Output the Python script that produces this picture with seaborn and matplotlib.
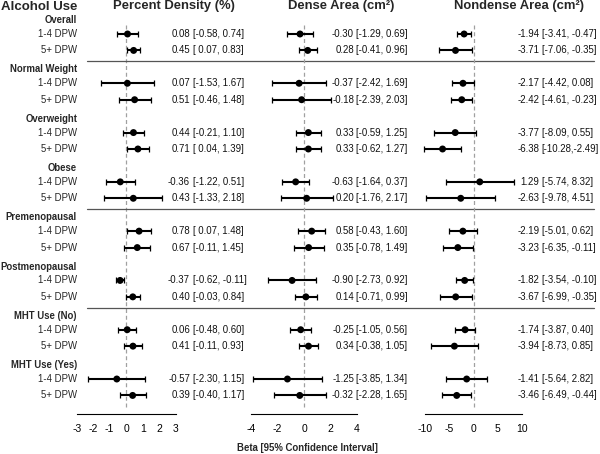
import numpy as np
import pandas as pd
import matplotlib
matplotlib.use("Agg")
import matplotlib.pyplot as plt
import seaborn as sns
from matplotlib.transforms import blended_transform_factory as btf

# ---------------- data ----------------
groups = ["Overall", "Normal Weight", "Overweight", "Obese",
          "Premenopausal", "Postmenopausal", "MHT Use (No)", "MHT Use (Yes)"]
levels = ["1-4 DPW", "5+ DPW"]

pd_est = [0.08, 0.45, 0.07, 0.51, 0.44, 0.71, -0.36, 0.43, 0.78, 0.67, -0.37, 0.40, 0.06, 0.41, -0.57, 0.39]
pd_lo = [-0.58, 0.07, -1.53, -0.46, -0.21, 0.04, -1.22, -1.33, 0.07, -0.11, -0.62, -0.03, -0.48, -0.11, -2.30, -0.40]
pd_hi = [0.74, 0.83, 1.67, 1.48, 1.10, 1.39, 0.51, 2.18, 1.48, 1.45, -0.11, 0.84, 0.60, 0.93, 1.15, 1.17]

da_est = [-0.30, 0.28, -0.37, -0.18, 0.33, 0.33, -0.63, 0.20, 0.58, 0.35, -0.90, 0.14, -0.25, 0.34, -1.25, -0.32]
da_lo = [-1.29, -0.41, -2.42, -2.39, -0.59, -0.62, -1.64, -1.76, -0.43, -0.78, -2.73, -0.71, -1.05, -0.38, -3.85, -2.28]
da_hi = [0.69, 0.96, 1.69, 2.03, 1.25, 1.27, 0.37, 2.17, 1.60, 1.49, 0.92, 0.99, 0.56, 1.05, 1.34, 1.65]

nd_est = [-1.94, -3.71, -2.17, -2.42, -3.77, -6.38, 1.29, -2.63, -2.19, -3.23, -1.82, -3.67, -1.74, -3.94, -1.41, -3.46]
nd_lo = [-3.41, -7.06, -4.42, -4.61, -8.09, -10.28, -5.74, -9.78, -5.01, -6.35, -3.54, -6.99, -3.87, -8.73, -5.64, -6.49]
nd_hi = [-0.47, -0.35, 0.08, -0.23, 0.55, -2.49, 8.32, 4.51, 0.62, -0.11, -0.10, -0.35, 0.40, 0.85, 2.82, -0.44]

panel_titles = ["Percent Density (%)", "Dense Area (cm²)", "Nondense Area (cm²)"]
panel_ticks = [[-3, -2, -1, 0, 1, 2, 3], [-4, -2, 0, 2, 4], [-10, -5, 0, 5, 10]]
x_label = "Beta [95% Confidence Interval]"
col_title = "Alcohol Use"

# ---------------- layout ----------------
W, H = 600, 454
sns.set_style("white")
plt.rcParams["font.family"] = ["Liberation Sans", "DejaVu Sans"]

fig = plt.figure(figsize=(W / 100, H / 100), dpi=100)

# row positions (in row units)
row_y = []
header_y = []
for g in range(len(groups)):
    header_y.append(3 * g + 1 - 0.84)
    row_y += [3 * g + 1, 3 * g + 2]

ylim = (24.13, -1.069)
ax_bottom_px = 414
panel_px = [(76.7, 175.7), (251, 357), (425, 522)]
est_right_px = [190, 354, 539.5]
ci_left_px = [192.5, 356.5, 541.5]
title_cx_px = [174, 341, 519]

panels = [(pd_est, pd_lo, pd_hi), (da_est, da_lo, da_hi), (nd_est, nd_lo, nd_hi)]

FS = 6.9
LFS = 6.85
axes = []
for p, ((x0, x1), (est, lo, hi)) in enumerate(zip(panel_px, panels)):
    ax = fig.add_axes([x0 / W, 1 - ax_bottom_px / H, (x1 - x0) / W, ax_bottom_px / H])
    ax.patch.set_alpha(0)
    df = pd.DataFrame({"est": est, "lo": lo, "hi": hi, "row": row_y})
    ticks = panel_ticks[p]
    ax.set_xlim(ticks[0], ticks[-1])
    ax.set_ylim(*ylim)
    # zero line
    ax.plot([0, 0], [0.45, 23.75], ls=(0, (3.2, 2.2)), color="#a0a0a0", lw=0.9, zorder=1)
    ax.errorbar(df["est"], df["row"], xerr=[df["est"] - df["lo"], df["hi"] - df["est"]],
                fmt="none", ecolor="black", elinewidth=1.5, capsize=2.3, capthick=0.9,
                zorder=2, clip_on=False)
    sns.scatterplot(data=df, x="est", y="row", ax=ax, color="black", s=25,
                    edgecolor="none", zorder=3, legend=False, clip_on=False)
    ax.set_ylim(*ylim)
    ax.set_xlabel("")
    ax.set_ylabel("")
    ax.set_yticks([])
    ax.set_xticks(ticks)
    ax.set_xticklabels([str(t) for t in ticks], fontsize=7.5)
    for s in ["left", "right", "top"]:
        ax.spines[s].set_visible(False)
    ax.spines["bottom"].set_color("black")
    ax.spines["bottom"].set_linewidth(0.8)
    ax.tick_params(axis="x", direction="out", length=3.2, width=0.8, pad=4, colors="black")

    tr = btf(fig.transFigure, ax.transData)
    for e, l, h, y in zip(est, lo, hi, row_y):
        los = f"{l:5.2f}"
        sep = "," if len(los) > 5 else ", "
        ax.text(est_right_px[p] / W, y, f"{e:.2f}", transform=tr, ha="right", va="center",
                fontsize=FS, color="#111111")
        ax.text(ci_left_px[p] / W, y, f"[{los}{sep}{h:.2f}]", transform=tr, ha="left",
                va="center", fontsize=FS, color="#111111")
    fig.text(title_cx_px[p] / W, 1 - 6.5 / H, panel_titles[p], ha="center", va="center",
             fontsize=9.4, fontweight="bold")
    axes.append(ax)

ax0 = axes[0]
tr0 = btf(fig.transFigure, ax0.transData)
# left label column
for g, name in enumerate(groups):
    ax0.text(77 / W, header_y[g], name, transform=tr0, ha="right", va="center",
             fontsize=LFS, fontweight="bold")
    for k, lev in enumerate(levels):
        ax0.text(77 / W, row_y[2 * g + k], lev, transform=tr0, ha="right", va="center",
                 fontsize=FS)

# separators
for after in [2, 11, 17]:
    ax0.plot([87 / W, 594 / W], [after + 0.66, after + 0.66], transform=tr0,
             color="#555555", lw=0.9, clip_on=False)

fig.text(77.5 / W, 1 - 6.5 / H, col_title, ha="right", va="center", fontsize=9.5, fontweight="bold")
fig.text(307 / W, 1 - 448 / H, x_label, ha="center", va="center", fontsize=FS, fontweight="bold")

fig.savefig("out.png", dpi=100)
